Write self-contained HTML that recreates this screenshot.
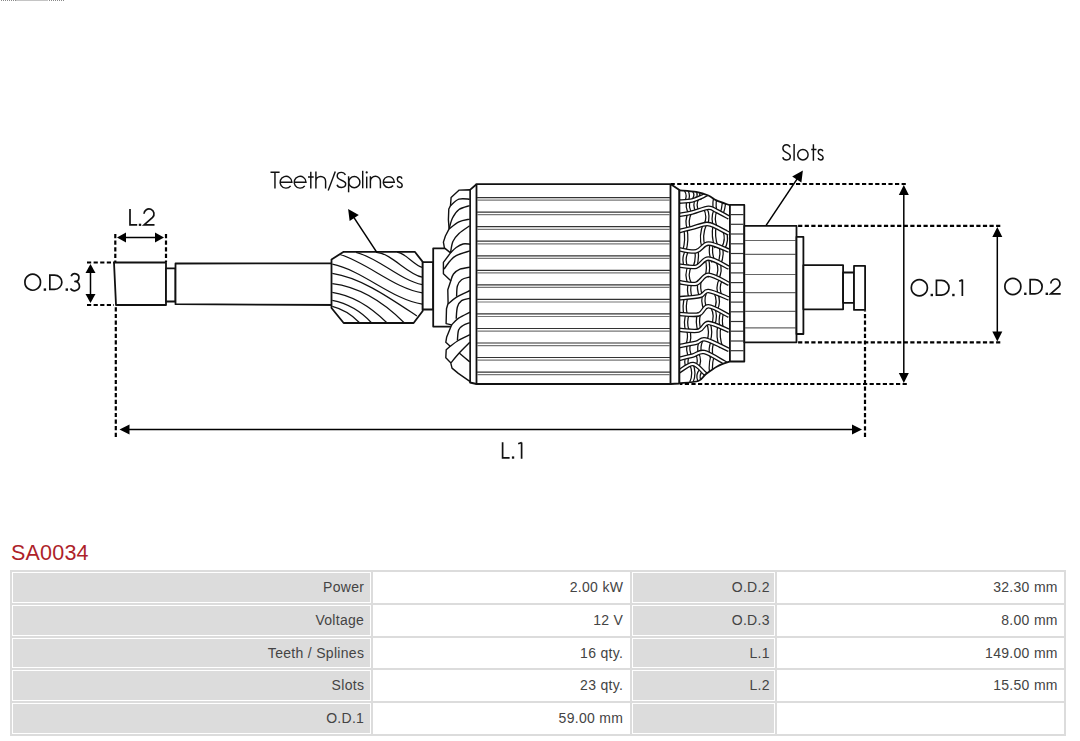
<!DOCTYPE html>
<html><head><meta charset="utf-8">
<style>
html,body{margin:0;padding:0;background:#fff;width:1080px;height:741px;overflow:hidden;position:relative}
svg{position:absolute;left:0;top:0}
.dot{stroke:#000;stroke-width:2.2;stroke-dasharray:4.2 2.4;fill:none}
.ar{stroke:#000;stroke-width:1.5;fill:none}
.o{stroke:#111;stroke-width:1.8;fill:#fff;stroke-linejoin:round}
.t{stroke:#111;stroke-width:1.2;fill:none}
.w{stroke:#111;stroke-width:1.4;fill:none;stroke-linejoin:round}
.hb{stroke:#111;stroke-width:4.6;fill:none}
.hw{stroke:#fff;stroke-width:2.0;fill:none}
.tb{stroke:#111;stroke-width:4.5;fill:none}
.tw{stroke:#fff;stroke-width:2.0;fill:none}
.s1{stroke:#333;stroke-width:1.2}
.s2{stroke:#777;stroke-width:1.2}
.s3{stroke:#666;stroke-width:1.2}
.gl{stroke:#111;stroke-width:1.7;fill:none;stroke-linejoin:miter}
.gt{stroke:#111;stroke-width:1.45;fill:none}
.lb{font-family:"Liberation Sans",sans-serif;fill:#111;stroke:#fff;stroke-width:0.2}
.title{position:absolute;left:11px;top:541px;font-family:"Liberation Sans",sans-serif;font-size:21.5px;color:#ae1f2a;letter-spacing:0.2px}
.tbl{position:absolute;left:10px;top:570px;width:1056px;height:166px;background:#dcdcdc}
.c{position:absolute;box-sizing:border-box;border:1px solid #fff;font-family:"Liberation Sans",sans-serif;font-size:14px;color:#444;text-align:right;line-height:29.6px;padding-right:7px;white-space:nowrap;letter-spacing:0.3px}
.g{background:#dcdcdc}
.v{background:#fff}
.topline{position:absolute;left:0;top:0;width:64px;height:1px;background:repeating-linear-gradient(90deg,#fff 0 1px,#8a8a8a 1px 2px)}
</style></head><body>
<div class="topline" style="left:0;width:16px"></div><div style="position:absolute;left:16px;top:0;width:32px;height:1px;background:#c4c4c4"></div><div class="topline" style="left:48px;width:16px"></div>
<svg width="1080" height="500" viewBox="0 0 1080 500">
<path d="M114,262.5 L166,262.5 L166,305 L116,305 Z" class="o"/>
<rect x="166" y="268.4" width="9.5" height="33.1" class="o"/>
<path d="M340,263.3 L175.5,263.5 L175.5,304.2 L340,305" class="o"/>
<path d="M343.7,251.8 L414.8,251.8 L422.7,261.9 L422.7,311 L413.6,323 L343.7,323 L331.5,308 L331.5,259.4 Z" class="o"/>
<rect x="422.7" y="262.2" width="10.5" height="47.3" class="o"/>
<path d="M452,248.3 L433.2,248.3 L433.2,326.6 L452,326.6" class="o"/>
<path d="M397.1,252.2 C405.5,252.8 413.9,265.3 422.3,267.4" class="t"/>
<path d="M376.6,252.3 C391.8,253.6 407.1,274.2 422.3,277.2" class="t"/>
<path d="M356.1,252.3 C378.2,257.7 400.2,280.3 422.3,284.7" class="t"/>
<path d="M339.9,254.5 C367.4,262.7 394.8,288.7 422.3,292.8" class="t"/>
<path d="M332.3,264.2 C362.3,270.2 392.3,299.7 422.3,304.2" class="t"/>
<path d="M332.3,273.4 C360.5,277.6 388.7,297.3 416.9,316.0" class="t"/>
<path d="M332.3,283.6 C356.2,286.5 380.0,298.5 403.9,322.5" class="t"/>
<path d="M332.3,292.3 C350.4,295.0 368.5,304.6 386.6,322.5" class="t"/>
<path d="M332.3,300.4 C345.3,303.0 358.2,308.4 371.2,322.5" class="t"/>
<path d="M332.3,306.3 C341.3,308.6 350.3,313.0 359.3,322.5" class="t"/>
<rect x="476.5" y="184.2" width="194" height="199.8" class="o"/>
<line x1="477" y1="197.6" x2="670" y2="197.6" class="s1"/>
<line x1="477" y1="200.2" x2="670" y2="200.2" class="s2"/>
<line x1="477" y1="212.1" x2="670" y2="212.1" class="s1"/>
<line x1="477" y1="214.7" x2="670" y2="214.7" class="s2"/>
<line x1="477" y1="226.7" x2="670" y2="226.7" class="s1"/>
<line x1="477" y1="229.3" x2="670" y2="229.3" class="s2"/>
<line x1="477" y1="241.2" x2="670" y2="241.2" class="s1"/>
<line x1="477" y1="243.8" x2="670" y2="243.8" class="s2"/>
<line x1="477" y1="255.8" x2="670" y2="255.8" class="s1"/>
<line x1="477" y1="258.4" x2="670" y2="258.4" class="s2"/>
<line x1="477" y1="270.3" x2="670" y2="270.3" class="s1"/>
<line x1="477" y1="272.9" x2="670" y2="272.9" class="s2"/>
<line x1="477" y1="284.8" x2="670" y2="284.8" class="s1"/>
<line x1="477" y1="287.4" x2="670" y2="287.4" class="s2"/>
<line x1="477" y1="299.4" x2="670" y2="299.4" class="s1"/>
<line x1="477" y1="302.0" x2="670" y2="302.0" class="s2"/>
<line x1="477" y1="313.9" x2="670" y2="313.9" class="s1"/>
<line x1="477" y1="316.5" x2="670" y2="316.5" class="s2"/>
<line x1="477" y1="328.5" x2="670" y2="328.5" class="s1"/>
<line x1="477" y1="331.1" x2="670" y2="331.1" class="s2"/>
<line x1="477" y1="343.0" x2="670" y2="343.0" class="s1"/>
<line x1="477" y1="345.6" x2="670" y2="345.6" class="s2"/>
<line x1="477" y1="357.5" x2="670" y2="357.5" class="s1"/>
<line x1="477" y1="360.1" x2="670" y2="360.1" class="s2"/>
<line x1="477" y1="372.1" x2="670" y2="372.1" class="s1"/>
<line x1="477" y1="374.7" x2="670" y2="374.7" class="s2"/>
<path d="M476.5,184.2 L470,189.9 L470,382.5 L476.5,384" class="o" style="fill:none"/>
<path d="M670.5,184.1 L679.4,190 L679.4,383.5 L670.5,384" class="o" style="fill:none"/>
<path d="M469.7,189.7 L459.2,190.1 L451.1,197.5 L450.5,205.6 L448.8,209 L448.4,219.8 L449.1,228.9 L445.4,236 L443.4,242.1 L444.4,247.9 L450.5,252.9 L443.4,262.4 L443.4,273.8 L450.8,280.7 L447.8,289.8 L448.1,303.3 L446.5,308.7 L446.1,323.6 L451.6,324.9 L446.7,336.9 L445.8,342.3 L450.2,346.3 L446.2,349.8 L445.8,357.8 L450.7,362.7 L452,368.1 L458.3,373.4 L469.8,381.4 L470,381.4 L470,189.7 Z" class="w" style="fill:#fff"/>
<path d="M450.50,205.60 C451.90,204.53 455.70,200.27 458.90,199.20 C462.10,198.13 467.90,199.20 469.70,199.20" class="w"/>
<path d="M449.10,228.90 C449.67,227.08 450.85,221.23 452.50,218.00 C454.15,214.77 456.13,211.57 459.00,209.50 C461.87,207.43 467.92,206.25 469.70,205.60" class="w"/>
<path d="M449.10,228.90 C450.73,227.72 455.47,223.43 458.90,221.80 C462.33,220.17 467.90,219.55 469.70,219.10" class="w"/>
<path d="M450.50,252.90 C450.90,251.00 451.48,244.73 452.90,241.50 C454.32,238.27 456.20,236.12 459.00,233.50 C461.80,230.88 467.92,227.08 469.70,225.80" class="w"/>
<path d="M450.50,252.90 C451.45,252.00 454.12,248.98 456.20,247.50 C458.28,246.02 460.70,244.55 463.00,244.00 C465.30,243.45 468.83,244.17 470.00,244.20" class="w"/>
<path d="M444.10,269.10 C445.08,267.75 447.98,263.25 450.00,261.00 C452.02,258.75 452.87,257.28 456.20,255.60 C459.53,253.92 467.70,251.68 470.00,250.90" class="w"/>
<path d="M450.80,280.70 C451.25,279.58 451.97,275.92 453.50,274.00 C455.03,272.08 457.25,270.35 460.00,269.20 C462.75,268.05 468.33,267.45 470.00,267.10" class="w"/>
<path d="M456.60,296.60 C456.73,294.83 456.57,288.82 457.40,286.00 C458.23,283.18 459.50,281.20 461.60,279.70 C463.70,278.20 468.60,277.45 470.00,277.00" class="w"/>
<path d="M448.10,304.00 C449.45,302.88 452.55,299.55 456.20,297.30 C459.85,295.05 467.70,291.63 470.00,290.50" class="w"/>
<path d="M456.20,318.80 C456.40,316.83 456.50,310.03 457.40,307.00 C458.30,303.97 459.50,302.05 461.60,300.60 C463.70,299.15 468.60,298.68 470.00,298.30" class="w"/>
<path d="M451.60,324.90 C452.72,323.80 455.23,320.43 458.30,318.30 C461.37,316.17 468.05,313.13 470.00,312.10" class="w"/>
<path d="M457.40,340.50 C457.60,338.75 457.67,332.50 458.60,330.00 C459.53,327.50 461.13,326.72 463.00,325.50 C464.87,324.28 468.67,323.17 469.80,322.70" class="w"/>
<path d="M450.20,346.30 C451.55,345.33 455.03,342.43 458.30,340.50 C461.57,338.57 467.88,335.67 469.80,334.70" class="w"/>
<path d="M451.10,362.70 C452.45,361.08 456.08,356.40 459.20,353.00 C462.32,349.60 468.03,344.08 469.80,342.30" class="w"/>
<path d="M459.20,353.00 C460.97,354.48 468.03,360.42 469.80,361.90" class="w"/>
<defs><clipPath id="rw"><path d="M679.40,190.30 C682.20,190.57 691.37,191.03 696.20,191.90 C701.03,192.77 705.02,194.08 708.40,195.50 C711.78,196.92 712.97,198.78 716.50,200.40 C720.03,202.02 727.42,204.40 729.60,205.20 L729.6,361.6 C727.52,362.37 721.57,364.08 717.60,366.20 C713.63,368.32 708.92,371.83 705.70,374.30 C702.48,376.77 702.68,379.52 698.30,381.00 C693.92,382.48 682.55,382.83 679.40,383.20 Z"/></clipPath></defs>
<path d="M679.40,190.30 C682.20,190.57 691.37,191.03 696.20,191.90 C701.03,192.77 705.02,194.08 708.40,195.50 C711.78,196.92 712.97,198.78 716.50,200.40 C720.03,202.02 727.42,204.40 729.60,205.20 L729.6,361.6 C727.52,362.37 721.57,364.08 717.60,366.20 C713.63,368.32 708.92,371.83 705.70,374.30 C702.48,376.77 702.68,379.52 698.30,381.00 C693.92,382.48 682.55,382.83 679.40,383.20 Z" fill="#fff" stroke="none"/>
<g clip-path="url(#rw)">
<path d="M685.9,189.9 Q689.6,195.9 686.1,202.0" class="tb"/><path d="M685.9,189.9 Q689.6,195.9 686.1,202.0" class="tw"/>
<path d="M694.1,190.7 Q697.5,195.9 692.8,201.2" class="tb"/><path d="M694.1,190.7 Q697.5,195.9 692.8,201.2" class="tw"/>
<path d="M700.9,192.3 Q702.9,195.5 699.3,198.6" class="tb"/><path d="M700.9,192.3 Q702.9,195.5 699.3,198.6" class="tw"/>
<path d="M689.1,199.7 Q685.9,206.7 690.7,213.8" class="tb"/><path d="M689.1,199.7 Q685.9,206.7 690.7,213.8" class="tw"/>
<path d="M697.7,197.3 Q693.5,204.6 697.5,211.9" class="tb"/><path d="M697.7,197.3 Q693.5,204.6 697.5,211.9" class="tw"/>
<path d="M717.0,192.5 Q713.1,202.0 715.2,211.4" class="tb"/><path d="M717.0,192.5 Q713.1,202.0 715.2,211.4" class="tw"/>
<path d="M723.2,192.5 Q725.6,203.5 721.3,214.5" class="tb"/><path d="M723.2,192.5 Q725.6,203.5 721.3,214.5" class="tw"/>
<path d="M690.3,211.9 Q685.6,220.8 689.1,229.7" class="tb"/><path d="M690.3,211.9 Q685.6,220.8 689.1,229.7" class="tw"/>
<path d="M705.0,207.7 Q709.5,216.5 705.6,225.2" class="tb"/><path d="M705.0,207.7 Q709.5,216.5 705.6,225.2" class="tw"/>
<path d="M715.7,209.6 Q711.6,218.8 715.9,227.9" class="tb"/><path d="M715.7,209.6 Q711.6,218.8 715.9,227.9" class="tw"/>
<path d="M685.4,228.6 Q687.5,239.8 684.4,250.9" class="tb"/><path d="M685.4,228.6 Q687.5,239.8 684.4,250.9" class="tw"/>
<path d="M705.2,223.3 Q699.8,235.5 703.6,247.6" class="tb"/><path d="M705.2,223.3 Q699.8,235.5 703.6,247.6" class="tw"/>
<path d="M714.7,225.5 Q712.5,236.4 716.5,247.4" class="tb"/><path d="M714.7,225.5 Q712.5,236.4 716.5,247.4" class="tw"/>
<path d="M724.3,230.3 Q728.3,239.9 722.5,249.5" class="tb"/><path d="M724.3,230.3 Q728.3,239.9 722.5,249.5" class="tw"/>
<path d="M687.7,249.3 Q682.4,258.1 686.0,267.0" class="tb"/><path d="M687.7,249.3 Q682.4,258.1 686.0,267.0" class="tw"/>
<path d="M696.3,250.2 Q698.0,258.9 694.7,267.6" class="tb"/><path d="M696.3,250.2 Q698.0,258.9 694.7,267.6" class="tw"/>
<path d="M711.7,243.7 Q709.5,252.8 713.4,261.8" class="tb"/><path d="M711.7,243.7 Q709.5,252.8 713.4,261.8" class="tw"/>
<path d="M720.8,246.9 Q722.9,255.6 719.0,264.3" class="tb"/><path d="M720.8,246.9 Q722.9,255.6 719.0,264.3" class="tw"/>
<path d="M690.2,265.3 Q685.1,274.7 690.0,284.1" class="tb"/><path d="M690.2,265.3 Q685.1,274.7 690.0,284.1" class="tw"/>
<path d="M706.8,258.7 Q709.4,267.9 706.5,277.2" class="tb"/><path d="M706.8,258.7 Q709.4,267.9 706.5,277.2" class="tw"/>
<path d="M717.8,261.7 Q721.8,270.6 716.6,279.4" class="tb"/><path d="M717.8,261.7 Q721.8,270.6 716.6,279.4" class="tw"/>
<path d="M690.4,282.2 Q687.6,290.1 690.8,298.0" class="tb"/><path d="M690.4,282.2 Q687.6,290.1 690.8,298.0" class="tw"/>
<path d="M699.7,280.2 Q697.8,288.3 701.1,296.4" class="tb"/><path d="M699.7,280.2 Q697.8,288.3 701.1,296.4" class="tw"/>
<path d="M720.9,279.3 Q716.4,287.9 720.7,296.5" class="tb"/><path d="M720.9,279.3 Q716.4,287.9 720.7,296.5" class="tw"/>
<path d="M686.5,296.5 Q683.4,305.8 685.7,315.1" class="tb"/><path d="M686.5,296.5 Q683.4,305.8 685.7,315.1" class="tw"/>
<path d="M705.1,292.0 Q701.4,300.8 705.7,309.6" class="tb"/><path d="M705.1,292.0 Q701.4,300.8 705.7,309.6" class="tw"/>
<path d="M715.6,292.6 Q720.1,301.6 715.4,310.5" class="tb"/><path d="M715.6,292.6 Q720.1,301.6 715.4,310.5" class="tw"/>
<path d="M687.9,313.2 Q684.4,322.2 687.5,331.1" class="tb"/><path d="M687.9,313.2 Q684.4,322.2 687.5,331.1" class="tw"/>
<path d="M699.2,313.0 Q696.5,321.9 699.6,330.9" class="tb"/><path d="M699.2,313.0 Q696.5,321.9 699.6,330.9" class="tw"/>
<path d="M712.4,307.1 Q717.2,316.3 712.6,325.5" class="tb"/><path d="M712.4,307.1 Q717.2,316.3 712.6,325.5" class="tw"/>
<path d="M722.3,311.7 Q719.4,320.4 722.0,329.1" class="tb"/><path d="M722.3,311.7 Q719.4,320.4 722.0,329.1" class="tw"/>
<path d="M688.0,329.2 Q690.7,337.4 687.1,345.6" class="tb"/><path d="M688.0,329.2 Q690.7,337.4 687.1,345.6" class="tw"/>
<path d="M708.0,322.2 Q712.0,332.0 708.4,341.7" class="tb"/><path d="M708.0,322.2 Q712.0,332.0 708.4,341.7" class="tw"/>
<path d="M719.3,326.1 Q717.2,336.8 721.2,347.5" class="tb"/><path d="M719.3,326.1 Q717.2,336.8 721.2,347.5" class="tw"/>
<path d="M689.2,343.1 Q686.7,350.1 690.6,357.1" class="tb"/><path d="M689.2,343.1 Q686.7,350.1 690.6,357.1" class="tw"/>
<path d="M701.3,340.0 Q698.0,347.2 700.1,354.4" class="tb"/><path d="M701.3,340.0 Q698.0,347.2 700.1,354.4" class="tw"/>
<path d="M712.7,341.7 Q709.3,349.3 711.7,357.0" class="tb"/><path d="M712.7,341.7 Q709.3,349.3 711.7,357.0" class="tw"/>
<path d="M687.6,355.8 Q685.0,361.8 687.9,367.7" class="tb"/><path d="M687.6,355.8 Q685.0,361.8 687.9,367.7" class="tw"/>
<path d="M696.9,353.3 Q701.0,360.6 696.7,367.9" class="tb"/><path d="M696.9,353.3 Q701.0,360.6 696.7,367.9" class="tw"/>
<path d="M712.6,355.4 Q708.8,368.2 712.9,381.0" class="tb"/><path d="M712.6,355.4 Q708.8,368.2 712.9,381.0" class="tw"/>
<path d="M691.3,364.0 Q695.5,373.4 691.2,382.8" class="tb"/><path d="M691.3,364.0 Q695.5,373.4 691.2,382.8" class="tw"/>
<path d="M701.4,369.7 Q696.7,375.3 699.5,380.9" class="tb"/><path d="M701.4,369.7 Q696.7,375.3 699.5,380.9" class="tw"/>
<path d="M679.00,201.60 C681.20,201.40 688.25,201.28 692.20,200.40 C696.15,199.52 700.07,197.45 702.70,196.30 C705.33,195.15 707.12,193.97 708.00,193.50" class="hb"/><path d="M679.00,201.60 C681.20,201.40 688.25,201.28 692.20,200.40 C696.15,199.52 700.07,197.45 702.70,196.30 C705.33,195.15 707.12,193.97 708.00,193.50" class="hw"/>
<path d="M679.00,215.00 C681.20,214.58 687.30,213.72 692.20,212.50 C697.10,211.28 704.35,207.97 708.40,207.70 C712.45,207.43 713.07,209.25 716.50,210.90 C719.93,212.55 726.92,216.48 729.00,217.60" class="hb"/><path d="M679.00,215.00 C681.20,214.58 687.30,213.72 692.20,212.50 C697.10,211.28 704.35,207.97 708.40,207.70 C712.45,207.43 713.07,209.25 716.50,210.90 C719.93,212.55 726.92,216.48 729.00,217.60" class="hw"/>
<path d="M679.00,231.20 C681.20,230.65 687.57,229.12 692.20,227.90 C696.83,226.68 702.75,224.03 706.80,223.90 C710.85,223.77 712.80,225.45 716.50,227.10 C720.20,228.75 726.92,232.68 729.00,233.80" class="hb"/><path d="M679.00,231.20 C681.20,230.65 687.57,229.12 692.20,227.90 C696.83,226.68 702.75,224.03 706.80,223.90 C710.85,223.77 712.80,225.45 716.50,227.10 C720.20,228.75 726.92,232.68 729.00,233.80" class="hw"/>
<path d="M679.00,249.30 C681.87,249.63 691.30,252.25 696.20,251.30 C701.10,250.35 702.93,243.70 708.40,243.60 C713.87,243.50 725.57,249.52 729.00,250.70" class="hb"/><path d="M679.00,249.30 C681.87,249.63 691.30,252.25 696.20,251.30 C701.10,250.35 702.93,243.70 708.40,243.60 C713.87,243.50 725.57,249.52 729.00,250.70" class="hw"/>
<path d="M679.00,265.50 C681.87,265.70 691.30,267.85 696.20,266.70 C701.10,265.55 702.93,258.43 708.40,258.60 C713.87,258.77 725.57,266.18 729.00,267.70" class="hb"/><path d="M679.00,265.50 C681.87,265.70 691.30,267.85 696.20,266.70 C701.10,265.55 702.93,258.43 708.40,258.60 C713.87,258.77 725.57,266.18 729.00,267.70" class="hw"/>
<path d="M679.00,282.10 C681.87,282.37 691.30,284.92 696.20,283.70 C701.10,282.48 702.93,274.77 708.40,274.80 C713.87,274.83 725.57,282.38 729.00,283.90" class="hb"/><path d="M679.00,282.10 C681.87,282.37 691.30,284.92 696.20,283.70 C701.10,282.48 702.93,274.77 708.40,274.80 C713.87,274.83 725.57,282.38 729.00,283.90" class="hw"/>
<path d="M679.00,298.30 C682.55,297.90 695.40,297.12 700.30,295.90 C705.20,294.68 703.62,290.57 708.40,291.00 C713.18,291.43 725.57,297.25 729.00,298.50" class="hb"/><path d="M679.00,298.30 C682.55,297.90 695.40,297.12 700.30,295.90 C705.20,294.68 703.62,290.57 708.40,291.00 C713.18,291.43 725.57,297.25 729.00,298.50" class="hw"/>
<path d="M679.00,314.00 C682.28,314.07 693.80,315.68 698.70,314.40 C703.60,313.12 703.35,306.07 708.40,306.30 C713.45,306.53 725.57,314.22 729.00,315.80" class="hb"/><path d="M679.00,314.00 C682.28,314.07 693.80,315.68 698.70,314.40 C703.60,313.12 703.35,306.07 708.40,306.30 C713.45,306.53 725.57,314.22 729.00,315.80" class="hw"/>
<path d="M679.00,329.80 C682.28,329.93 693.80,331.75 698.70,330.60 C703.60,329.45 703.35,322.87 708.40,322.90 C713.45,322.93 725.57,329.48 729.00,330.80" class="hb"/><path d="M679.00,329.80 C682.28,329.93 693.80,331.75 698.70,330.60 C703.60,329.45 703.35,322.87 708.40,322.90 C713.45,322.93 725.57,329.48 729.00,330.80" class="hw"/>
<path d="M679.00,346.10 C681.87,345.55 691.75,343.90 696.20,342.80 C700.65,341.70 700.23,338.30 705.70,339.50 C711.17,340.70 725.12,348.25 729.00,350.00" class="hb"/><path d="M679.00,346.10 C681.87,345.55 691.75,343.90 696.20,342.80 C700.65,341.70 700.23,338.30 705.70,339.50 C711.17,340.70 725.12,348.25 729.00,350.00" class="hw"/>
<path d="M679.00,358.80 C681.33,358.25 688.80,356.62 693.00,355.50 C697.20,354.38 698.98,350.93 704.20,352.10 C709.42,353.27 720.00,360.18 724.30,362.50 C728.60,364.82 729.05,365.42 730.00,366.00" class="hb"/><path d="M679.00,358.80 C681.33,358.25 688.80,356.62 693.00,355.50 C697.20,354.38 698.98,350.93 704.20,352.10 C709.42,353.27 720.00,360.18 724.30,362.50 C728.60,364.82 729.05,365.42 730.00,366.00" class="hw"/>
<path d="M679.00,371.40 C681.35,370.17 688.77,363.63 693.10,364.00 C697.43,364.37 701.85,370.93 705.00,373.60 C708.15,376.27 710.83,378.93 712.00,380.00" class="hb"/><path d="M679.00,371.40 C681.35,370.17 688.77,363.63 693.10,364.00 C697.43,364.37 701.85,370.93 705.00,373.60 C708.15,376.27 710.83,378.93 712.00,380.00" class="hw"/>
</g>
<path d="M679.40,190.30 C682.20,190.57 691.37,191.03 696.20,191.90 C701.03,192.77 705.02,194.08 708.40,195.50 C711.78,196.92 712.97,198.78 716.50,200.40 C720.03,202.02 727.42,204.40 729.60,205.20" class="o" style="fill:none"/>
<path d="M729.50,361.60 C727.52,362.37 721.57,364.08 717.60,366.20 C713.63,368.32 708.92,371.83 705.70,374.30 C702.48,376.77 702.68,379.52 698.30,381.00 C693.92,382.48 682.55,382.83 679.40,383.20" class="o" style="fill:none"/>
<line x1="679.4" y1="190" x2="679.4" y2="383.5" class="o"/>
<rect x="729.9" y="204.9" width="14.4" height="156.6" class="o"/>
<line x1="730.5" y1="214.6" x2="743.7" y2="214.6" class="s1"/>
<line x1="730.5" y1="224.3" x2="743.7" y2="224.3" class="s1"/>
<line x1="730.5" y1="234.0" x2="743.7" y2="234.0" class="s1"/>
<line x1="730.5" y1="243.8" x2="743.7" y2="243.8" class="s1"/>
<line x1="730.5" y1="253.5" x2="743.7" y2="253.5" class="s1"/>
<line x1="730.5" y1="263.2" x2="743.7" y2="263.2" class="s1"/>
<line x1="730.5" y1="272.9" x2="743.7" y2="272.9" class="s1"/>
<line x1="730.5" y1="282.6" x2="743.7" y2="282.6" class="s1"/>
<line x1="730.5" y1="292.4" x2="743.7" y2="292.4" class="s1"/>
<line x1="730.5" y1="302.1" x2="743.7" y2="302.1" class="s1"/>
<line x1="730.5" y1="311.8" x2="743.7" y2="311.8" class="s1"/>
<line x1="730.5" y1="321.5" x2="743.7" y2="321.5" class="s1"/>
<line x1="730.5" y1="331.2" x2="743.7" y2="331.2" class="s1"/>
<line x1="730.5" y1="341.0" x2="743.7" y2="341.0" class="s1"/>
<line x1="730.5" y1="350.7" x2="743.7" y2="350.7" class="s1"/>
<rect x="744.3" y="225.9" width="52.2" height="116.4" class="o"/>
<line x1="745" y1="240.5" x2="796" y2="240.5" class="s3"/>
<line x1="745" y1="254.3" x2="796" y2="254.3" class="s3"/>
<line x1="745" y1="274.5" x2="796" y2="274.5" class="s3"/>
<line x1="745" y1="292.7" x2="796" y2="292.7" class="s3"/>
<line x1="745" y1="311.3" x2="796" y2="311.3" class="s3"/>
<line x1="745" y1="327.9" x2="796" y2="327.9" class="s3"/>
<rect x="796.5" y="236.8" width="6.9" height="97.2" class="o"/>
<rect x="803.4" y="265.2" width="39.7" height="44.1" class="o"/>
<rect x="843.1" y="272.5" width="10.9" height="30.3" class="o"/>
<rect x="854" y="265.8" width="11.1" height="44.1" class="o"/>
<line x1="115.8" y1="436.9" x2="115.8" y2="306" class="dot"/>
<line x1="115.3" y1="234" x2="115.3" y2="262" class="dot"/>
<line x1="166" y1="234" x2="166" y2="262" class="dot"/>
<line x1="87" y1="262.5" x2="114" y2="262.5" class="dot"/>
<line x1="87" y1="305" x2="114" y2="305" class="dot"/>
<line x1="905.8" y1="184" x2="671" y2="184" class="dot"/>
<line x1="906.8" y1="384" x2="680" y2="384" class="dot"/>
<line x1="1000.3" y1="225.9" x2="797" y2="225.9" class="dot"/>
<line x1="1000.3" y1="342.3" x2="797" y2="342.3" class="dot"/>
<line x1="865" y1="437" x2="865" y2="310.5" class="dot"/>
<line x1="124.2" y1="237.5" x2="156.8" y2="237.5" class="ar"/>
<path d="M164.0,237.5 L155.0,242.5 L155.0,232.5 Z" fill="#000" stroke="none"/>
<path d="M117.0,237.5 L126.0,232.5 L126.0,242.5 Z" fill="#000" stroke="none"/>
<line x1="90.5" y1="271.2" x2="90.5" y2="295.8" class="ar"/>
<path d="M90.5,303.0 L85.5,294.0 L95.5,294.0 Z" fill="#000" stroke="none"/>
<path d="M90.5,264.0 L95.5,273.0 L85.5,273.0 Z" fill="#000" stroke="none"/>
<line x1="903.8" y1="193.0" x2="903.8" y2="375.0" class="ar"/>
<path d="M903.8,383.0 L898.8,373.0 L908.8,373.0 Z" fill="#000" stroke="none"/>
<path d="M903.8,185.0 L908.8,195.0 L898.8,195.0 Z" fill="#000" stroke="none"/>
<line x1="997.3" y1="235.0" x2="997.3" y2="333.5" class="ar"/>
<path d="M997.3,341.5 L992.3,331.5 L1002.3,331.5 Z" fill="#000" stroke="none"/>
<path d="M997.3,227.0 L1002.3,237.0 L992.3,237.0 Z" fill="#000" stroke="none"/>
<line x1="127.5" y1="429.4" x2="854.0" y2="429.4" class="ar"/>
<path d="M862.0,429.4 L852.0,434.4 L852.0,424.4 Z" fill="#000" stroke="none"/>
<path d="M119.5,429.4 L129.5,424.4 L129.5,434.4 Z" fill="#000" stroke="none"/>
<line x1="377" y1="252.6" x2="353.0" y2="216.2" class="ar"/>
<path d="M348.1,208.9 L358.8,215.0 L349.6,221.1 Z" fill="#000" stroke="none"/>
<line x1="766.1" y1="225.4" x2="798.0" y2="177.7" class="ar"/>
<path d="M802.9,170.4 L801.4,182.6 L792.2,176.5 Z" fill="#000" stroke="none"/>
<path d="M927.4,287.75 A8.05,8.05 0 1 1 927.4,287.7 Z" class="gl"/>
<rect x="930.6" y="293.8" width="2.4" height="2.4" fill="#111"/>
<path d="M936.45,280.45 L941.5,280.45 A7.55,7.3 0 0 1 941.5,295.05 L936.45,295.05 Z" class="gl"/>
<rect x="952.2" y="293.8" width="2.4" height="2.4" fill="#111"/>
<path d="M962.35,279.6 L962.35,296.1 M959.2,281.3 L962.4,279.9" class="gl"/>
<path d="M1020.85,286.55 A8.0,8.0 0 1 1 1020.85,286.5 Z" class="gl"/>
<rect x="1024.1" y="292.6" width="2.4" height="2.4" fill="#111"/>
<path d="M1030.15,279.55 L1035,279.55 A7.15,7.15 0 0 1 1035,293.85 L1030.15,293.85 Z" class="gl"/>
<rect x="1045.6" y="292.6" width="2.4" height="2.4" fill="#111"/>
<path d="M1050.8,283.6 A4.6,4.6 0 1 1 1058.9,286.6 L1050.6,293.85 L1060.7,293.85" class="gl"/>
<path d="M40.5,282.2 A7.8,8.0 0 1 1 40.5,282.15 Z" class="gl"/>
<rect x="43.7" y="288.4" width="2.4" height="2.4" fill="#111"/>
<path d="M49.85,275.05 L54.5,275.05 A7.35,7.15 0 0 1 54.5,289.35 L49.85,289.35 Z" class="gl"/>
<rect x="65.6" y="288.4" width="2.4" height="2.4" fill="#111"/>
<path d="M71.2,276.2 A4.0,3.9 0 1 1 75.0,281.5 M74.2,281.5 A4.9,4.6 0 1 1 70.4,288.6" class="gl"/>
<path d="M130,209 L130,224.85 L137.2,224.85" class="gl"/>
<rect x="138.8" y="223.7" width="2.4" height="2.2" fill="#111"/>
<path d="M144.0,213.8 A5.0,5.0 0 1 1 152.6,217.4 L144.1,224.85 L154.5,224.85" class="gl"/>
<path d="M502.6,442.2 L502.6,457.85 L509.6,457.85" class="gl"/>
<rect x="511.9" y="456.4" width="2.3" height="2.3" fill="#111"/>
<path d="M521.6,442.4 L521.6,458.7 M518.2,443.7 L521.7,442.5" class="gl"/>
<path d="M270.5,172.3 L279.6,172.3 M274.95,172.3 L274.95,188.4" class="gt"/>
<path d="M280.10,182.25 L291.90,182.25 A5.9,5.9 0 1 0 290.65,185.88" class="gt"/>
<path d="M294.20,182.25 L306.00,182.25 A5.9,5.9 0 1 0 304.75,185.88" class="gt"/>
<path d="M310.8,171.7 L310.8,188.4 M308,177 L313.7,177" class="gt"/>
<path d="M315.9,171.4 L315.9,188.4 M315.9,181.2 A4.85,4.8 0 0 1 325.6,181.2 L325.6,188.4" class="gt"/>
<path d="M335.3,171.6 L328.2,190.4" class="gt"/>
<path d="M345.44,174.92 C344.43,172.95 343.15,172.35 341.45,172.35 C338.90,172.35 337.20,173.86 337.20,176.12 C337.20,178.69 339.32,179.45 341.45,180.20 C344.00,181.11 345.70,182.01 345.70,183.83 C345.70,185.94 344.00,187.45 341.45,187.45 C339.32,187.45 337.62,186.54 337.03,184.73" class="gt"/>
<path d="M348.6,176.3 L348.6,192.3" class="gt"/>
<circle cx="354.3" cy="182.15" r="5.6" class="gt"/>
<path d="M362.7,170.8 L362.7,188.3" class="gt"/>
<path d="M366.7,176.6 L366.7,188.3" class="gt"/>
<circle cx="366.7" cy="172.4" r="1.1" fill="#111"/>
<path d="M370.4,176.3 L370.4,188.3 M370.4,181.2 A5.0,4.9 0 0 1 380.4,181.2 L380.4,188.3" class="gt"/>
<path d="M383.30,182.15 L394.30,182.15 A5.5,5.5 0 1 0 393.13,185.54" class="gt"/>
<path d="M402.05,178.62 C401.46,177.23 400.73,176.80 399.75,176.80 C398.28,176.80 397.30,177.87 397.30,179.48 C397.30,181.29 398.52,181.83 399.75,182.36 C401.22,183.01 402.20,183.65 402.20,184.93 C402.20,186.43 401.22,187.50 399.75,187.50 C398.52,187.50 397.55,186.86 397.20,185.57" class="gt"/>
<path d="M790.08,147.25 C789.19,145.26 788.08,144.65 786.60,144.65 C784.38,144.65 782.90,146.18 782.90,148.47 C782.90,151.08 784.75,151.84 786.60,152.61 C788.82,153.52 790.30,154.44 790.30,156.28 C790.30,158.42 788.82,159.95 786.60,159.95 C784.75,159.95 783.27,159.03 782.75,157.20" class="gt"/>
<path d="M794.1,144.1 L794.1,160.7" class="gt"/>
<circle cx="802.9" cy="154.7" r="5.2" class="gt"/>
<path d="M813.4,144.3 L813.4,160.7 M811.2,149.4 L816.5,149.4" class="gt"/>
<path d="M822.95,151.23 C822.37,149.87 821.63,149.45 820.65,149.45 C819.18,149.45 818.20,150.50 818.20,152.07 C818.20,153.86 819.43,154.38 820.65,154.91 C822.12,155.54 823.10,156.17 823.10,157.43 C823.10,158.90 822.12,159.95 820.65,159.95 C819.43,159.95 818.45,159.32 818.10,158.06" class="gt"/>
</svg>
<div class="title">SA0034</div>
<div class="tbl"></div>
<div class="c g" style="left:12px;top:572.0px;width:358.5px;height:30.8px;padding-right:5.3px"><span>Power</span></div>
<div class="c v" style="left:372.5px;top:572.0px;width:257.5px;height:30.8px;padding-right:5.8px"><span>2.00 kW</span></div>
<div class="c g" style="left:632px;top:572.0px;width:143.0px;height:30.8px;padding-right:4.2px"><span>O.D.2</span></div>
<div class="c v" style="left:777px;top:572.0px;width:287.0px;height:30.8px;padding-right:5.2px"><span>32.30 mm</span></div>
<div class="c g" style="left:12px;top:604.8px;width:358.5px;height:30.8px;padding-right:5.3px"><span>Voltage</span></div>
<div class="c v" style="left:372.5px;top:604.8px;width:257.5px;height:30.8px;padding-right:5.8px"><span>12 V</span></div>
<div class="c g" style="left:632px;top:604.8px;width:143.0px;height:30.8px;padding-right:4.2px"><span>O.D.3</span></div>
<div class="c v" style="left:777px;top:604.8px;width:287.0px;height:30.8px;padding-right:5.2px"><span>8.00 mm</span></div>
<div class="c g" style="left:12px;top:637.6px;width:358.5px;height:30.8px;padding-right:5.3px"><span>Teeth / Splines</span></div>
<div class="c v" style="left:372.5px;top:637.6px;width:257.5px;height:30.8px;padding-right:5.8px"><span>16 qty.</span></div>
<div class="c g" style="left:632px;top:637.6px;width:143.0px;height:30.8px;padding-right:4.2px"><span>L.1</span></div>
<div class="c v" style="left:777px;top:637.6px;width:287.0px;height:30.8px;padding-right:5.2px"><span>149.00 mm</span></div>
<div class="c g" style="left:12px;top:670.4px;width:358.5px;height:30.8px;padding-right:5.3px"><span>Slots</span></div>
<div class="c v" style="left:372.5px;top:670.4px;width:257.5px;height:30.8px;padding-right:5.8px"><span>23 qty.</span></div>
<div class="c g" style="left:632px;top:670.4px;width:143.0px;height:30.8px;padding-right:4.2px"><span>L.2</span></div>
<div class="c v" style="left:777px;top:670.4px;width:287.0px;height:30.8px;padding-right:5.2px"><span>15.50 mm</span></div>
<div class="c g" style="left:12px;top:703.2px;width:358.5px;height:30.8px;padding-right:5.3px"><span>O.D.1</span></div>
<div class="c v" style="left:372.5px;top:703.2px;width:257.5px;height:30.8px;padding-right:5.8px"><span>59.00 mm</span></div>
<div class="c g" style="left:632px;top:703.2px;width:143.0px;height:30.8px;padding-right:4.2px"><span></span></div>
<div class="c v" style="left:777px;top:703.2px;width:287.0px;height:30.8px;padding-right:5.2px"><span></span></div>
</body></html>
